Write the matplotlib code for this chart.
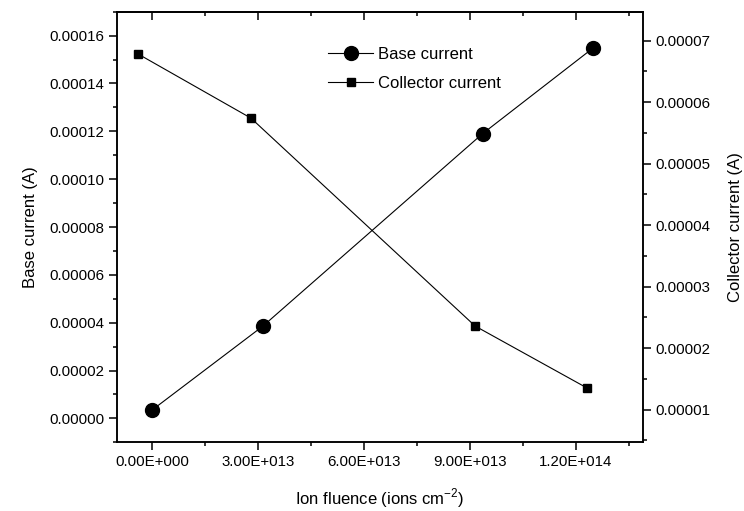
import numpy as np
import matplotlib
matplotlib.use('Agg')
import matplotlib.pyplot as plt
from matplotlib.ticker import MultipleLocator, FuncFormatter, FormatStrFormatter

plt.rcParams['font.family'] = ['Liberation Sans', 'DejaVu Sans']

# data
fluence_base = [0.0, 3.14e13, 9.36e13, 1.249e14]
base_current = [3.5e-6, 3.86e-5, 1.19e-4, 1.548e-4]
fluence_coll = [-0.39e13, 2.80e13, 9.15e13, 1.233e14]
collector_current = [6.78e-5, 5.74e-5, 2.36e-5, 1.35e-5]


def fmt_e(v, pos):
    s = '%.2E' % v
    mant, ex = s.split('E')
    sign = ex[0]
    return '%sE%s%03d' % (mant, sign, abs(int(ex)))


fig = plt.figure(figsize=(7.44, 5.11), dpi=100)
ax = fig.add_axes([0.157, 0.1344, 0.707, 0.8427])
ax2 = ax.twinx()

l1, = ax.plot(fluence_base, base_current, '-', color='black', lw=0.8,
              marker='o', markersize=10, label='Base current')
l2, = ax2.plot(fluence_coll, collector_current, '-', color='black', lw=0.8,
               marker='s', markersize=6, label='Collector current')

ax.set_xlim(-1e13, 1.39e14)
ax.set_ylim(-0.00001, 0.00017)
ax2.set_ylim(0.0000047, 0.0000747)

ax.xaxis.set_major_locator(MultipleLocator(3e13))
ax.xaxis.set_minor_locator(MultipleLocator(1.5e13))
ax.xaxis.set_major_formatter(FuncFormatter(fmt_e))
ax.yaxis.set_major_locator(MultipleLocator(0.00002))
ax.yaxis.set_minor_locator(MultipleLocator(0.00001))
ax.yaxis.set_major_formatter(FormatStrFormatter('%.5f'))
ax2.yaxis.set_major_locator(MultipleLocator(0.00001))
ax2.yaxis.set_minor_locator(MultipleLocator(0.000005))
ax2.yaxis.set_major_formatter(FormatStrFormatter('%.5f'))

for a in (ax, ax2):
    for sp in a.spines.values():
        sp.set_linewidth(1.1)
    a.tick_params(which='major', length=5.5, width=1.1, labelsize=10.8, direction='out')
    a.tick_params(which='minor', length=3, width=1.1, direction='out')

top = ax.secondary_xaxis('top')
top.xaxis.set_major_locator(MultipleLocator(3e13))
top.xaxis.set_minor_locator(MultipleLocator(1.5e13))
top.tick_params(which='major', direction='in', length=5.5, width=1.1, labeltop=False)
top.tick_params(which='minor', direction='in', length=3, width=1.1)
top.spines['top'].set_linewidth(1.1)

ax.set_xlabel('Ion fluence (ions cm$^{\\mathregular{-2}}$)', fontsize=12, labelpad=13)
ax.set_ylabel('Base current (A)', fontsize=12, labelpad=8)
ax2.set_ylabel('Collector current (A)', fontsize=12, labelpad=13)

fig.legend(handles=[l1, l2], loc='upper left', bbox_to_anchor=(328 / 744, 1 - 47 / 511),
           frameon=False, fontsize=12, handlelength=2.7, handletextpad=0.3,
           borderpad=0, borderaxespad=0, labelspacing=0.85)

fig.savefig('out.png', dpi=100)
plt.close(fig)
